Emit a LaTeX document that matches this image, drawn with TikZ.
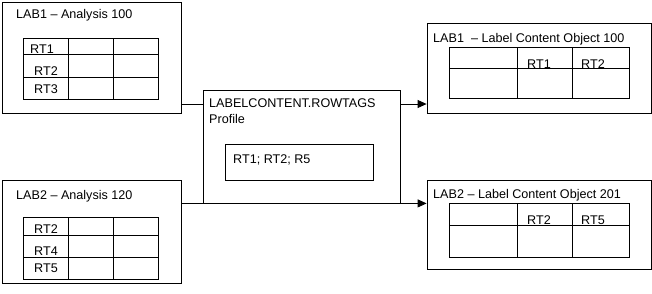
\documentclass[tikz,border=0pt]{standalone}
\usepackage{fontspec}
\setmainfont{Liberation Sans}
\usetikzlibrary{arrows.meta,positioning}

\begin{document}
\begin{tikzpicture}[x=1pt, y=-1pt,
	box/.style={draw, line width=0.8pt, fill=white, inner sep=0pt},
	lbl/.style={anchor=base west, inner sep=0pt, font=\fontsize{12.6}{14}\selectfont},
	grid/.style={line width=0.8pt},
	arr/.style={-{Triangle[length=9pt, width=8pt]}, line width=0.8pt}
]
	\useasboundingbox (0,0) rectangle (652,293);
	% source analyses
	\node[box, minimum width=179pt, minimum height=111pt] (lab1) at (91.5, 57.5) {};
	\node[box, minimum width=179pt, minimum height=103pt] (lab2) at (91.5, 231.5) {};
	% profile
	\node[box, minimum width=197pt, minimum height=113pt] (prof) at (301.5, 146.5) {};
	\node[box, minimum width=148pt, minimum height=36pt] (rtags) at (299, 162) {};
	% target label content objects
	\node[box, minimum width=224pt, minimum height=90pt] (lco1) at (539, 68) {};
	\node[box, minimum width=224pt, minimum height=89pt] (lco2) at (539, 224.5) {};

	\node[lbl] (lab1t) at (16, 18) {LAB1 -- Analysis 100};
	\node[lbl] (lab2t) at (16, 199) {LAB2 -- Analysis 120};
	\node[lbl] (proft) at (209, 107) {LABELCONTENT.ROWTAGS};
	\node[lbl] (profp) at (209, 123) {Profile};
	\node[lbl] (rtagst) at (233, 163) {RT1; RT2; R5};
	\node[lbl] (lco1t) at (433, 42) {LAB1 \ -- Label Content Object 100};
	\node[lbl] (lco2t) at (433, 198) {LAB2 -- Label Content Object 201};

	% analysis tables
	\draw[grid] (23,38) rectangle (158,99);
	\draw[grid] (23,54) -- (158,54) (23,77) -- (158,77);
	\draw[grid] (68,38) -- (68,99) (113,38) -- (113,99);
	\node[lbl] (a1r1) at (30, 53) {RT1};
	\node[lbl] (a1r2) at (34, 75) {RT2};
	\node[lbl] (a1r3) at (34, 93) {RT3};

	\draw[grid] (23,217) rectangle (158,279);
	\draw[grid] (23,235) -- (158,235) (23,257) -- (158,257);
	\draw[grid] (68,217) -- (68,279) (113,217) -- (113,279);
	\node[lbl] (a2r1) at (34, 233) {RT2};
	\node[lbl] (a2r2) at (34, 255) {RT4};
	\node[lbl] (a2r3) at (34, 272) {RT5};

	% content object tables
	\draw[grid] (449,47) rectangle (629,98);
	\draw[grid] (449,68) -- (629,68);
	\draw[grid] (517,47) -- (517,98) (572,47) -- (572,98);
	\node[lbl] (c1c1) at (527, 68) {RT1};
	\node[lbl] (c1c2) at (581, 68) {RT2};

	\draw[grid] (449,203) rectangle (629,257);
	\draw[grid] (449,225) -- (629,225);
	\draw[grid] (517,203) -- (517,257) (572,203) -- (572,257);
	\node[lbl] (c2c1) at (527, 224) {RT2};
	\node[lbl] (c2c2) at (581, 224) {RT5};

	% connectors
	\coordinate (top) at (0, 104);
	\draw[grid] (lab1.east |- top) -- (prof.west |- top);
	\draw[arr] (prof.east |- top) -- (lco1.west |- top);
	\draw[arr] (lab2.east |- prof.south) -- (lco2.west |- prof.south);
\end{tikzpicture}
\end{document}
